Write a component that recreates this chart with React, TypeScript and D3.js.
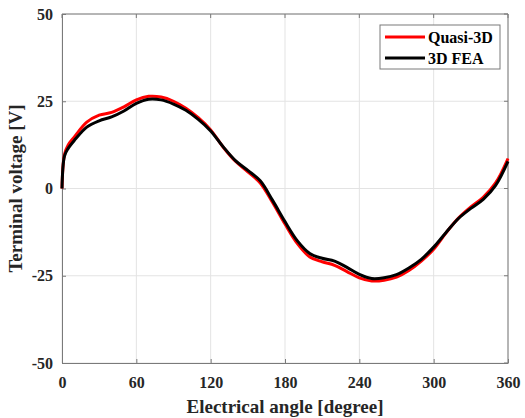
import React, { useEffect, useRef } from 'react';
import * as d3 from 'd3';

// electrical angle [deg]
const angles = [0, 2, 5, 10, 20, 30, 40, 50, 60, 70, 80, 90, 100, 110, 120, 130, 140, 150, 160, 170, 180,
  190, 200, 210, 220, 230, 240, 250, 260, 270, 280, 290, 300, 310, 320, 330, 340, 350, 360];

const quasi3d = [0, 9.8, 12.5, 14.8, 19.0, 21.0, 21.8, 23.4, 25.4, 26.4, 26.2, 25.0, 23.0, 20.3, 16.8, 11.9,
  7.8, 4.8, 1.6, -4.0, -10.2, -15.8, -19.6, -21.0, -22.0, -23.8, -25.6, -26.5, -26.3, -25.4, -23.5, -20.8,
  -17.4, -12.7, -8.5, -5.3, -2.5, 1.6, 8.6];

const fea3d = [0, 9.3, 11.5, 13.8, 17.6, 19.4, 20.5, 22.2, 24.4, 25.6, 25.4, 24.2, 22.4, 19.8, 16.5, 12.0,
  8.0, 5.2, 2.2, -3.4, -9.5, -15.0, -18.6, -20.0, -20.8, -22.6, -24.6, -25.8, -25.6, -24.7, -22.8, -20.3,
  -16.8, -12.6, -8.6, -5.7, -3.1, 0.9, 7.8];

const xTicks = [0, 60, 120, 180, 240, 300, 360];
const yTicks = [-50, -25, 0, 25, 50];

const seriesNames = ['Quasi-3D', '3D FEA'];
const seriesColors = ['#ff0000', '#000000'];

const App = () => {
  const ref = useRef<SVGSVGElement>(null);

  useEffect(() => {
    const svg = d3.select(ref.current);
    svg.selectAll('*').remove();

    const margin = { top: 14, right: 17, bottom: 55, left: 62 };
    const width = 525 - margin.left - margin.right;
    const height = 418 - margin.top - margin.bottom;
    const font = '"Liberation Serif", "Times New Roman", serif';

    const g = svg.append('g').attr('transform', `translate(${margin.left},${margin.top})`);

    const x = d3.scaleLinear().domain([0, 360]).range([0, width]);
    const y = d3.scaleLinear().domain([-50, 50]).range([height, 0]);

    // grid
    g.append('g')
      .selectAll('line')
      .data(xTicks)
      .join('line')
      .attr('x1', d => x(d)).attr('x2', d => x(d))
      .attr('y1', 0).attr('y2', height)
      .attr('stroke', '#e3e3e3').attr('stroke-width', 1);
    g.append('g')
      .selectAll('line')
      .data(yTicks)
      .join('line')
      .attr('x1', 0).attr('x2', width)
      .attr('y1', d => y(d)).attr('y2', d => y(d))
      .attr('stroke', '#e3e3e3').attr('stroke-width', 1);

    // axes (ticks inward, box)
    const xAxis = g.append('g')
      .attr('transform', `translate(0,${height})`)
      .call(d3.axisBottom(x).tickValues(xTicks).tickFormat(d => String(d)).tickSizeInner(-4).tickSizeOuter(0).tickPadding(14));
    const yAxis = g.append('g')
      .call(d3.axisLeft(y).tickValues(yTicks).tickFormat(d => String(d)).tickSizeInner(-4).tickSizeOuter(0).tickPadding(9));
    [xAxis, yAxis].forEach(a => {
      a.select('.domain').attr('stroke', '#7a7a7a');
      a.selectAll('.tick line').attr('stroke', '#7a7a7a');
      a.selectAll('text')
        .attr('font-family', font)
        .attr('font-weight', 'bold')
        .attr('font-size', 16)
        .attr('fill', '#262626');
    });
    g.append('line').attr('x1', 0).attr('x2', width).attr('y1', 0).attr('y2', 0).attr('stroke', '#7a7a7a');
    g.append('line').attr('x1', width).attr('x2', width).attr('y1', 0).attr('y2', height).attr('stroke', '#7a7a7a');
    g.append('g').selectAll('line').data(xTicks).join('line')
      .attr('x1', d => x(d)).attr('x2', d => x(d)).attr('y1', 0).attr('y2', 4).attr('stroke', '#7a7a7a');
    g.append('g').selectAll('line').data(yTicks).join('line')
      .attr('x1', width).attr('x2', width - 4).attr('y1', d => y(d)).attr('y2', d => y(d)).attr('stroke', '#7a7a7a');

    // curves
    const line = d3.line<number>()
      .x((_, i) => x(angles[i]))
      .y(d => y(d))
      .curve(d3.curveCatmullRom.alpha(0.5));

    [quasi3d, fea3d].forEach((s, i) => {
      g.append('path')
        .datum(s)
        .attr('fill', 'none')
        .attr('stroke', seriesColors[i])
        .attr('stroke-width', 3)
        .attr('stroke-linejoin', 'round')
        .attr('d', line);
    });

    // legend
    const lg = g.append('g').attr('transform', `translate(${380 - margin.left},${25 - margin.top})`);
    lg.append('rect')
      .attr('width', 120).attr('height', 44)
      .attr('fill', '#fff').attr('stroke', '#7a7a7a').attr('stroke-width', 1);
    seriesNames.forEach((name, i) => {
      const yy = 12 + i * 21;
      lg.append('line')
        .attr('x1', 5).attr('x2', 45).attr('y1', yy).attr('y2', yy)
        .attr('stroke', seriesColors[i]).attr('stroke-width', 3);
      lg.append('text')
        .attr('x', 48).attr('y', yy)
        .attr('dy', '0.35em')
        .attr('font-family', font)
        .attr('font-weight', 'bold')
        .attr('font-size', 16)
        .attr('fill', '#000')
        .text(name);
    });

    // axis titles
    svg.append('text')
      .attr('x', margin.left + width / 2)
      .attr('y', 413)
      .attr('text-anchor', 'middle')
      .attr('font-family', font)
      .attr('font-weight', 'bold')
      .attr('font-size', 19)
      .attr('fill', '#262626')
      .text('Electrical angle [degree]');
    svg.append('text')
      .attr('transform', `translate(22,${margin.top + height / 2}) rotate(-90)`)
      .attr('text-anchor', 'middle')
      .attr('font-family', font)
      .attr('font-weight', 'bold')
      .attr('font-size', 19)
      .attr('fill', '#262626')
      .text('Terminal voltage [V]');
  }, []);

  return (
    <svg ref={ref} width={525} height={418} style={{ position: 'absolute', left: 0, top: 0, background: '#fff' }} />
  );
};

export default App;
